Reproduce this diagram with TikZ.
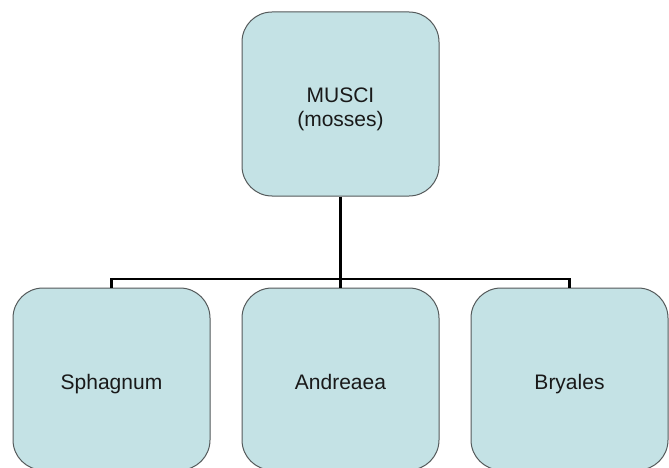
\documentclass[tikz,border=0pt]{standalone}
\usepackage{fontspec}
\setmainfont{Liberation Sans}
\begin{document}
\definecolor{boxfill}{HTML}{C4E2E5}
\definecolor{boxline}{HTML}{54595A}
\begin{tikzpicture}[x=1pt,y=-1pt,
  taxonfont/.style={font=\fontsize{21}{24}\selectfont, text=black!90},
  taxon/.style={draw=boxline, line width=1pt, fill=boxfill, rounded corners=30pt,
    minimum width=197pt, minimum height=184pt, inner sep=0pt, taxonfont},
  bottomtaxon/.style={taxon, minimum height=182pt, text height=24pt, text depth=4pt},
  link/.style={draw=black, line width=2.1pt}]
  \useasboundingbox (0,0) rectangle (669,468);
  \clip (0,0) rectangle (669,468);
  % class at the top, its two-line name set a little below the centre
  \node[taxon, label={[name=musci-name, taxonfont, align=center, yshift=-5pt]center:{MUSCI\\(mosses)}}]
    (musci) at (340.5,104) {};
  % orders below
  \node[bottomtaxon] (sphag) at (111.5,379) {Sphagnum};
  \node[bottomtaxon] (andr) at (340.5,379) {Andreaea};
  \node[bottomtaxon] (bry) at (569.5,379) {Bryales};
  % bus line joining the boxes
  \coordinate (bus) at (340.5,279);
  \draw[link] (musci.south) -- (andr.north);
  \draw[link] (sphag.north) |- (bus) -| (bry.north);
\end{tikzpicture}
\end{document}
